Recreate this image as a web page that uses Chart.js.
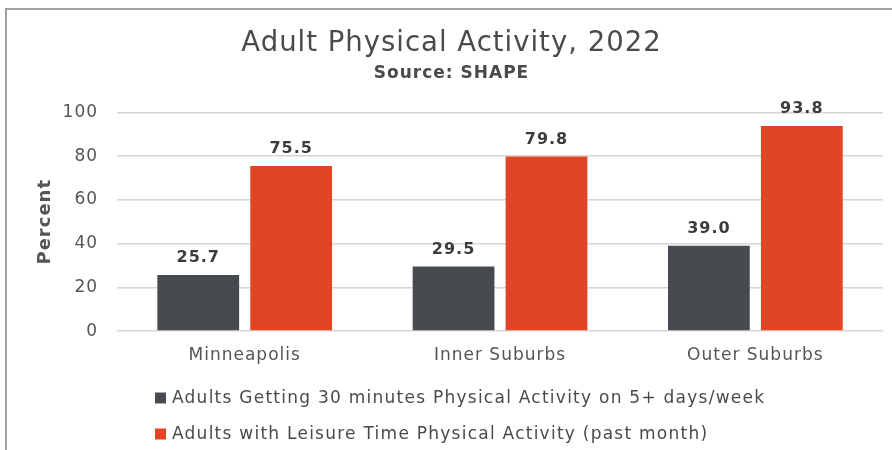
<!DOCTYPE html>
<html>
<head>
<meta charset="utf-8">
<script src="https://cdn.jsdelivr.net/npm/chart.js@4"></script>
<style>
  html, body { margin: 0; padding: 0; background: #fff; }
  #wrap { position: relative; width: 892px; height: 450px; }
  /* frame: top and left rule only */
  #frame { position: absolute; left: 5px; top: 8px; right: 0; bottom: 0;
           border-top: 2px solid #a0a0a0; border-left: 2px solid #a0a0a0; pointer-events: none; }
</style>
</head>
<body>
<div id="wrap">
  <canvas id="grafico" width="892" height="450"></canvas>
  <div id="frame"></div>
</div>
<script>
// ====== datos ======
const categorias = ['Minneapolis', 'Inner Suburbs', 'Outer Suburbs'];
const serieEjercicio = [25.7, 29.5, 39.0];
const serieOcio = [75.5, 79.8, 93.8];
const etiquetasSeries = [
  'Adults Getting 30 minutes Physical Activity on 5+ days/week',
  'Adults with Leisure Time Physical Activity (past month)'
];
const ticksY = [0, 20, 40, 60, 80, 100];

const FUENTE = "'DejaVu Sans', sans-serif";
const GRIS_TEXTO = '#555555';
const colores = ['#474a4f', '#e04626'];

// texto un poco más abierto en todo el gráfico
// (el canvas se redimensiona al iniciar, así que se aplica en cada pasada)
const espaciado = {
  id: 'espaciado',
  beforeUpdate(chart) { chart.ctx.letterSpacing = '1px'; },
  beforeDraw(chart) { chart.ctx.letterSpacing = '1px'; }
};

// etiquetas de valor encima de cada barra
const etiquetasValor = {
  id: 'etiquetasValor',
  afterDatasetsDraw(chart) {
    const ctx = chart.ctx;
    ctx.save();
    ctx.font = 'bold 16px ' + FUENTE;
    ctx.letterSpacing = '1px';
    ctx.fillStyle = '#3c3c3c';
    ctx.textAlign = 'center';
    ctx.textBaseline = 'bottom';
    chart.data.datasets.forEach((ds, i) => {
      chart.getDatasetMeta(i).data.forEach((bar, j) => {
        ctx.fillText(ds.data[j].toFixed(1), bar.x, bar.y - 9);
      });
    });
    ctx.restore();
  }
};

// leyenda en dos filas, alineada a la izquierda
const leyenda = {
  id: 'leyenda',
  afterDraw(chart) {
    const ctx = chart.ctx;
    ctx.save();
    ctx.font = '17px ' + FUENTE;
    ctx.letterSpacing = '1.25px';
    ctx.textBaseline = 'middle';
    ctx.textAlign = 'left';
    chart.data.datasets.forEach((ds, i) => {
      const y = 398 + i * 36;
      ctx.fillStyle = ds.backgroundColor;
      ctx.fillRect(155, y - 5.5, 11, 11);
      ctx.fillStyle = '#4a4a4a';
      ctx.fillText(ds.label, 172, y + 1);
    });
    ctx.restore();
  }
};

new Chart(document.getElementById('grafico'), {
  type: 'bar',
  data: {
    labels: categorias,
    datasets: [
      { label: etiquetasSeries[0], data: serieEjercicio, backgroundColor: colores[0] },
      { label: etiquetasSeries[1], data: serieOcio, backgroundColor: colores[1] }
    ]
  },
  options: {
    responsive: false,
    animation: false,
    categoryPercentage: 0.728,
    barPercentage: 0.88,
    layout: { padding: { top: 27, left: 20, right: 9, bottom: 70.5 } },
    scales: {
      x: {
        grid: { display: false, drawTicks: false },
        border: { display: false },
        ticks: { color: GRIS_TEXTO, font: { family: FUENTE, size: 17 }, padding: 14 }
      },
      y: {
        min: 0,
        max: 100,
        afterBuildTicks(scale) { scale.ticks = ticksY.map(v => ({ value: v })); },
        grid: { color: '#d6d6d6', lineWidth: 1.5, drawTicks: false },
        border: { display: false },
        ticks: { color: GRIS_TEXTO, font: { family: FUENTE, size: 17 }, padding: 19 },
        title: { display: true, text: 'Percent', color: GRIS_TEXTO,
                 font: { family: FUENTE, size: 18, weight: 'bold' }, padding: { top: 15, bottom: -13 } }
      }
    },
    plugins: {
      legend: { display: false },
      tooltip: { enabled: false },
      title: {
        display: true,
        text: 'Adult Physical Activity, 2022',
        color: '#4a4a4a',
        font: { family: FUENTE, size: 27.5, weight: 'normal' },
        padding: { top: 0, bottom: 3 }
      },
      subtitle: {
        display: true,
        text: 'Source: SHAPE',
        color: '#4a4a4a',
        font: { family: FUENTE, size: 17, weight: 'bold' },
        padding: { top: 0, bottom: 29 }
      }
    }
  },
  plugins: [espaciado, etiquetasValor, leyenda]
});
</script>
</body>
</html>
